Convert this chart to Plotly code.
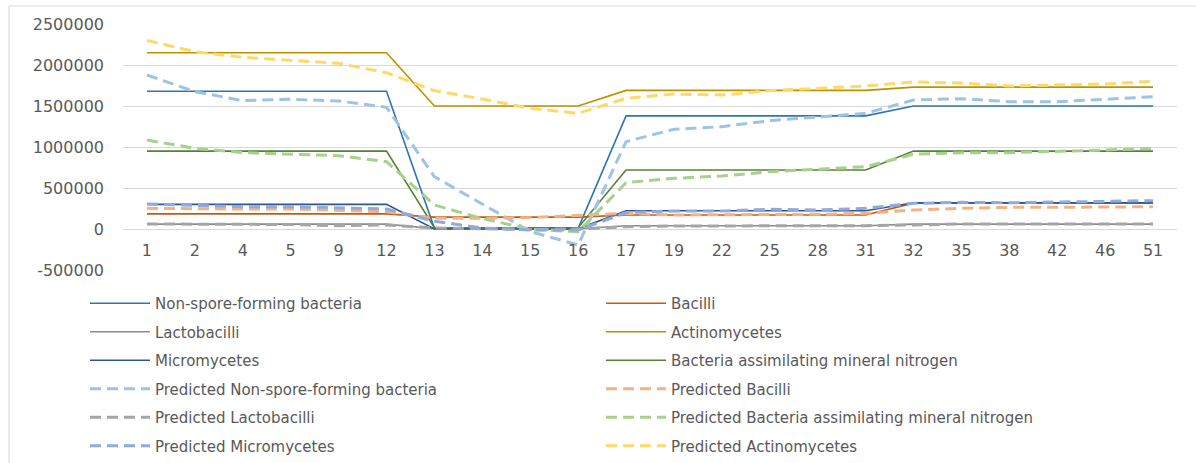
import plotly.graph_objects as go

# Sampling days (categorical x axis)
days = ["1", "2", "4", "5", "9", "12", "13", "14", "15", "16", "17",
        "19", "22", "25", "28", "31", "32", "35", "38", "42", "46", "51"]

# Observed counts
non_spore = [1680000, 1680000, 1680000, 1680000, 1680000, 1680000, 8000, 8000, 8000, 8000, 1380000,
             1380000, 1380000, 1380000, 1380000, 1380000, 1500000, 1500000, 1500000, 1500000, 1500000, 1500000]
bacilli = [185000, 185000, 185000, 185000, 185000, 185000, 145000, 145000, 145000, 145000, 170000,
           170000, 170000, 170000, 170000, 170000, 315000, 315000, 315000, 315000, 315000, 315000]
lactobacilli = [60000, 60000, 60000, 60000, 60000, 60000, 3000, 3000, 3000, 3000, 40000,
                40000, 40000, 40000, 40000, 40000, 60000, 60000, 60000, 60000, 60000, 60000]
actinomycetes = [2150000, 2150000, 2150000, 2150000, 2150000, 2150000, 1500000, 1500000, 1500000, 1500000, 1690000,
                 1690000, 1690000, 1690000, 1690000, 1690000, 1730000, 1730000, 1730000, 1730000, 1730000, 1730000]
micromycetes = [300000, 300000, 300000, 300000, 300000, 300000, 2000, 2000, 2000, 2000, 222000,
                222000, 222000, 222000, 222000, 222000, 320000, 320000, 320000, 320000, 320000, 320000]
nitrogen = [950000, 950000, 950000, 950000, 950000, 950000, 15000, 15000, 15000, 15000, 720000,
            720000, 720000, 720000, 720000, 720000, 950000, 950000, 950000, 950000, 950000, 950000]

# Model predictions
pred_non_spore = [1878000, 1675000, 1565000, 1582000, 1561000, 1484000, 638000, 300000, -30000, -195000, 1065000,
                  1216000, 1248000, 1321000, 1370000, 1411000, 1573000, 1589000, 1553000, 1553000, 1581000, 1614000]
pred_bacilli = [252000, 244000, 244000, 244000, 232000, 211000, 130000, 130000, 140000, 165000, 191000,
                171000, 171000, 171000, 179000, 191000, 232000, 252000, 264000, 264000, 264000, 272000]
pred_lactobacilli = [61000, 60000, 58000, 55000, 40000, 49000, 12000, 5000, -5000, 0, 28000,
                     37000, 37000, 37000, 37000, 40000, 49000, 61000, 61000, 61000, 61000, 61000]
pred_nitrogen = [1085000, 984000, 931000, 915000, 894000, 821000, 293000, 128000, -4000, -33000, 565000,
                 618000, 646000, 699000, 728000, 760000, 911000, 931000, 931000, 943000, 963000, 984000]
pred_micromycetes = [305000, 293000, 272000, 272000, 260000, 244000, 95000, 12000, -12000, -12000, 199000,
                     220000, 220000, 240000, 232000, 252000, 313000, 325000, 320000, 333000, 337000, 346000]
pred_actinomycetes = [2300000, 2162000, 2094000, 2061000, 2020000, 1906000, 1687000, 1585000, 1472000, 1411000, 1594000,
                      1646000, 1634000, 1687000, 1716000, 1744000, 1793000, 1780000, 1744000, 1752000, 1768000, 1801000]

y_ticks = [-500000, 0, 500000, 1000000, 1500000, 2000000, 2500000]
y_tick_text = ["-500000", "0", "500000", "1000000", "1500000", "2000000", "2500000"]

FONT = "DejaVu Sans"
TEXT = "#595959"

# (name, values, colour, dashed, legend column)
series = [
    ("Non-spore-forming bacteria", non_spore, "#2E75B6", False, "legend"),
    ("Bacilli", bacilli, "#C55A11", False, "legend2"),
    ("Lactobacilli", lactobacilli, "#8C8C8C", False, "legend"),
    ("Actinomycetes", actinomycetes, "#BF9000", False, "legend2"),
    ("Micromycetes", micromycetes, "#2F5597", False, "legend"),
    ("Bacteria assimilating mineral nitrogen", nitrogen, "#548235", False, "legend2"),
    ("Predicted Non-spore-forming bacteria", pred_non_spore, "#9DC3E6", True, "legend"),
    ("Predicted Bacilli", pred_bacilli, "#F4B183", True, "legend2"),
    ("Predicted Lactobacilli", pred_lactobacilli, "#A5A5A5", True, "legend"),
    ("Predicted Bacteria assimilating mineral nitrogen", pred_nitrogen, "#A9D18E", True, "legend2"),
    ("Predicted Micromycetes", pred_micromycetes, "#8FAADC", True, "legend"),
    ("Predicted Actinomycetes", pred_actinomycetes, "#FFD966", True, "legend2"),
]

fig = go.Figure()
for i, (name, vals, color, dashed, leg) in enumerate(series):
    fig.add_trace(go.Scatter(
        x=days, y=vals, mode="lines", name=name,
        line=dict(color=color, width=3 if dashed else 1.6,
                  dash="11px,6px" if dashed else "solid"),
        legend=leg, legendgroup=f"g{i:02d}",
    ))

W, H = 1196, 463
ML, MR, MT, MB = 123, 19, 24, 193
PW, PH = W - ML - MR, H - MT - MB


def px_x(x):
    return (x - ML) / PW


def px_y(y):
    return (H - MB - y) / PH


legend_style = dict(
    orientation="v", yanchor="top", xanchor="left",
    font=dict(family=FONT, size=15, color=TEXT),
    bgcolor="rgba(0,0,0,0)", tracegroupgap=6, itemwidth=60,
    traceorder="grouped",
)

fig.update_layout(
    width=W, height=H,
    margin=dict(l=ML, r=MR, t=MT, b=MB, autoexpand=False),
    paper_bgcolor="white", plot_bgcolor="white",
    font=dict(family=FONT, color=TEXT),
    showlegend=True,
    legend=dict(x=px_x(85), y=px_y(287), **legend_style),
    legend2=dict(x=px_x(601), y=px_y(287), **legend_style),
    xaxis=dict(
        type="category", range=[-0.5, len(days) - 0.5],
        showgrid=False, showline=False, zeroline=False, ticks="",
        anchor="free", position=1 / 6,
        tickfont=dict(family=FONT, size=16, color=TEXT),
        ticklabelstandoff=10,
    ),
    yaxis=dict(
        range=[-500000, 2500000], tickmode="array",
        tickvals=y_ticks, ticktext=y_tick_text,
        showgrid=True, gridcolor="#D9D9D9", gridwidth=1,
        zeroline=False, showline=False, ticks="",
        tickfont=dict(family=FONT, size=16, color=TEXT),
        ticklabelstandoff=18,
    ),
    shapes=[dict(
        type="rect", xref="paper", yref="paper",
        x0=px_x(9), x1=px_x(1205), y0=px_y(475), y1=px_y(6),
        line=dict(color="#D9D9D9", width=1), fillcolor="rgba(0,0,0,0)",
        layer="below",
    )],
)

fig.write_html("out.html")
